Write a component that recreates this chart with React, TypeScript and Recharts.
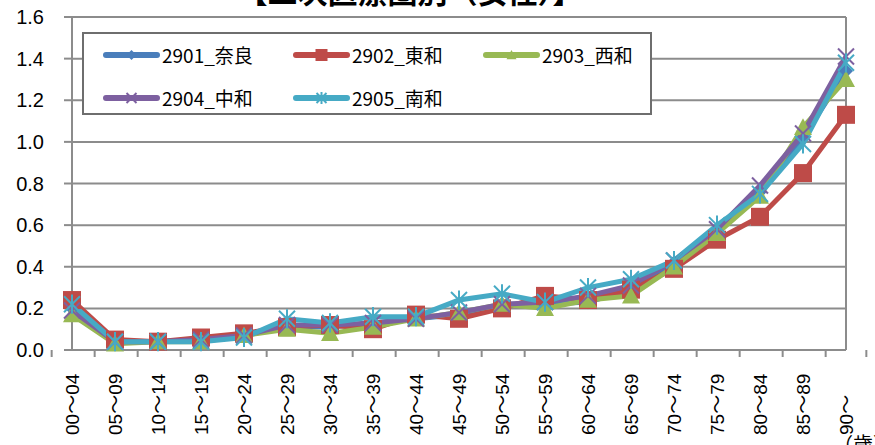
import React from "react";
import { LineChart, Line, XAxis, YAxis, CartesianGrid } from "recharts";

const categories = ["00～04", "05～09", "10～14", "15～19", "20～24", "25～29", "30～34", "35～39", "40～44", "45～49", "50～54", "55～59", "60～64", "65～69", "70～74", "75～79", "80～84", "85～89", "90～"];

const nara = [0.2, 0.04, 0.04, 0.05, 0.07, 0.11, 0.11, 0.13, 0.15, 0.17, 0.22, 0.22, 0.23, 0.29, 0.42, 0.57, 0.76, 1.02, 1.34];
const towa = [0.24, 0.05, 0.04, 0.06, 0.08, 0.11, 0.12, 0.1, 0.17, 0.15, 0.2, 0.26, 0.24, 0.29, 0.39, 0.53, 0.64, 0.85, 1.13];
const seiwa = [0.17, 0.03, 0.04, 0.04, 0.07, 0.1, 0.08, 0.11, 0.15, 0.18, 0.22, 0.2, 0.24, 0.26, 0.4, 0.56, 0.74, 1.07, 1.3];
const chuwa = [0.19, 0.04, 0.04, 0.05, 0.07, 0.12, 0.12, 0.13, 0.15, 0.18, 0.22, 0.23, 0.26, 0.31, 0.43, 0.58, 0.79, 1.04, 1.41];
const nanwa = [0.22, 0.04, 0.04, 0.04, 0.06, 0.15, 0.13, 0.16, 0.16, 0.24, 0.27, 0.23, 0.3, 0.34, 0.43, 0.6, 0.75, 0.99, 1.38];

const yTicks = [0, 0.2, 0.4, 0.6, 0.8, 1.0, 1.2, 1.4, 1.6];

const data = categories.map((c, i) => ({
  cat: c,
  nara: nara[i],
  towa: towa[i],
  seiwa: seiwa[i],
  chuwa: chuwa[i],
  nanwa: nanwa[i],
}));

const GRID = "#8C8C8C";
const JP = "'Noto Sans CJK JP', sans-serif";

type Kind = "diamond" | "square" | "triangle" | "x" | "star";

function marker(kind: Kind, cx: number, cy: number, color: string, s: number, key?: any) {
  if (kind === "diamond")
    return <path key={key} d={`M${cx},${cy - s}L${cx + s},${cy}L${cx},${cy + s}L${cx - s},${cy}Z`} fill={color} />;
  if (kind === "square")
    return <rect key={key} x={cx - s} y={cy - s} width={s * 2} height={s * 2} fill={color} />;
  if (kind === "triangle")
    return <path key={key} d={`M${cx},${cy - s}L${cx + s},${cy + s * 0.85}L${cx - s},${cy + s * 0.85}Z`} fill={color} />;
  if (kind === "x")
    return (
      <g key={key} stroke={color} strokeWidth={2}>
        <line x1={cx - s} y1={cy - s} x2={cx + s} y2={cy + s} />
        <line x1={cx - s} y1={cy + s} x2={cx + s} y2={cy - s} />
      </g>
    );
  return (
    <g key={key} stroke={color} strokeWidth={2}>
      <line x1={cx - s} y1={cy - s} x2={cx + s} y2={cy + s} />
      <line x1={cx - s} y1={cy + s} x2={cx + s} y2={cy - s} />
      <line x1={cx} y1={cy - s * 1.2} x2={cx} y2={cy + s * 1.2} />
    </g>
  );
}

const dotFn = (kind: Kind, color: string, s: number) => (p: any) => {
  if (p.cx == null || p.cy == null) return <g key={p.index} />;
  return marker(kind, p.cx, p.cy, color, s, p.index);
};

const series = [
  { key: "nara", name: "2901_奈良", color: "#4A7EBB", kind: "diamond" as Kind, size: 7 },
  { key: "towa", name: "2902_東和", color: "#BE4B48", kind: "square" as Kind, size: 9 },
  { key: "seiwa", name: "2903_西和", color: "#98B954", kind: "triangle" as Kind, size: 9 },
  { key: "chuwa", name: "2904_中和", color: "#7D60A0", kind: "x" as Kind, size: 8 },
  { key: "nanwa", name: "2905_南和", color: "#46AAC5", kind: "star" as Kind, size: 8 },
];

const BAND = 773 / categories.length;

const XTick = (props: any) => {
  const { x, y, payload, index } = props;
  return (
    <g>
      <line x1={x - BAND / 2} y1={y} x2={x - BAND / 2} y2={y + 7} stroke={GRID} strokeWidth={2} />
      {index === categories.length - 1 && (
        <line x1={x + BAND / 2} y1={y} x2={x + BAND / 2} y2={y + 7} stroke={GRID} strokeWidth={2} />
      )}
      <text
        transform={`translate(${x},${y + 85}) rotate(-90)`}
        textAnchor="start"
        dominantBaseline="central"
        fontSize={19}
        fontFamily={`'Liberation Sans', ${JP}`}
        fill="#000"
      >
        {payload.value}
      </text>
    </g>
  );
};

const legendPos = [
  { x: 19, y: 21 },
  { x: 209, y: 21 },
  { x: 399, y: 21 },
  { x: 19, y: 64 },
  { x: 209, y: 64 },
];

const LegendBox = () => (
  <div
    style={{
      position: "absolute",
      left: 82,
      top: 32,
      width: 566,
      height: 79,
      border: "2px solid #6E6E6E",
      background: "#fff",
    }}
  >
    {series.map((s, i) => (
      <div
        key={s.key}
        style={{ position: "absolute", left: legendPos[i].x, top: legendPos[i].y - 12, height: 24, display: "flex", alignItems: "center" }}
      >
        <svg width={57} height={24} style={{ display: "block" }}>
          <line x1={3} y1={12} x2={54} y2={12} stroke={s.color} strokeWidth={6} strokeLinecap="round" />
          {marker(s.kind, 28.5, 12, s.color, s.kind === "square" ? 6 : 5)}
        </svg>
        <span style={{ marginLeft: 2, fontFamily: JP, fontSize: 19, color: "#000", lineHeight: "24px", whiteSpace: "nowrap" }}>
          {s.name}
        </span>
      </div>
    ))}
  </div>
);

export default function App() {
  return (
    <div style={{ position: "absolute", left: 0, top: 0, width: 875, height: 445, background: "#fff", overflow: "hidden" }}>
      <LineChart width={875} height={445} data={data} margin={{ top: 17, right: 0, left: 0, bottom: 0 }}>
        <CartesianGrid vertical={false} stroke={GRID} strokeWidth={2} />
        <XAxis
          dataKey="cat"
          height={95}
          interval={0}
          tickLine={false}
          tickSize={0}
          tickMargin={0}
          axisLine={{ stroke: GRID, strokeWidth: 2 }}
          tick={<XTick />}
        />
        <YAxis
          width={72}
          domain={[0, 1.6]}
          ticks={yTicks}
          interval={0}
          tickFormatter={(v: number) => v.toFixed(1)}
          tickSize={8}
          tickMargin={20}
          axisLine={{ stroke: GRID, strokeWidth: 2 }}
          tickLine={{ stroke: GRID, strokeWidth: 2 }}
          tick={{ fill: "#000", fontSize: 20, fontFamily: "'Liberation Sans', Arial, sans-serif" }}
        />
        <YAxis
          yAxisId="r"
          orientation="right"
          width={29}
          domain={[0, 1.6]}
          tick={false}
          tickLine={false}
          axisLine={{ stroke: GRID, strokeWidth: 2 }}
        />
        {series.map((s) => (
          <Line
            key={s.key}
            dataKey={s.key}
            name={s.name}
            stroke={s.color}
            strokeWidth={5}
            type="linear"
            dot={dotFn(s.kind, s.color, s.size)}
            activeDot={false}
            isAnimationActive={false}
          />
        ))}
        <text x={410} y={3} textAnchor="middle" fontSize={30} fontWeight="bold" fontFamily={JP} fill="#000">
          【二次医療圏別（女性）】
        </text>
        <text x={833} y={452} fontSize={20} fontFamily={JP} fill="#000">
          （歳）
        </text>
      </LineChart>
      <LegendBox />
    </div>
  );
}
